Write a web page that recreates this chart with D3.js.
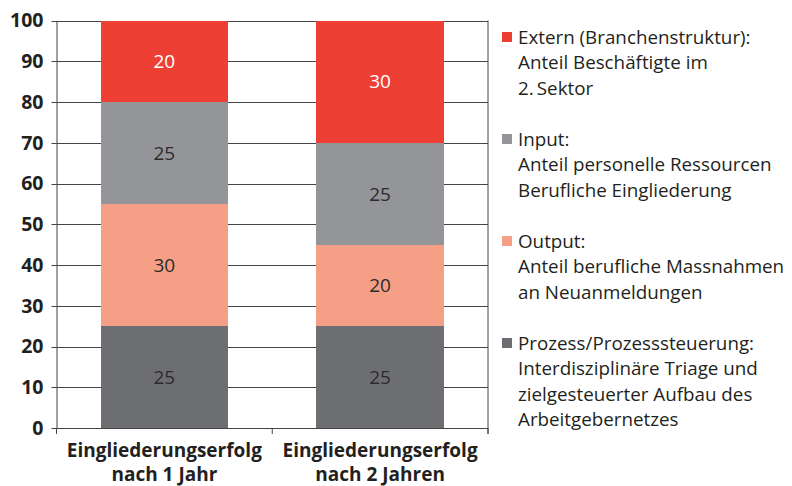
<!DOCTYPE html>
<html>
<head>
<meta charset="utf-8">
<script src="https://cdn.jsdelivr.net/npm/d3@7"></script>
<style>
  body { margin: 0; background: #fff; }
  svg { display: block; font-family: 'Open Sans', sans-serif; }
</style>
</head>
<body>
<div id="chart"></div>
<script>
const categories = [['Eingliederungserfolg', 'nach 1 Jahr'], ['Eingliederungserfolg', 'nach 2 Jahren']]
const seriesKeys = ['prozess', 'output', 'input', 'extern']
const prozess = [25, 25]
const output = [30, 20]
const input = [25, 25]
const extern = [20, 30]
const yTicks = [0, 10, 20, 30, 40, 50, 60, 70, 80, 90, 100]
const legendLabels = [
  ['Extern (Branchenstruktur):', 'Anteil Beschäftigte im', '2.\u2009Sektor'],
  ['Input:', 'Anteil personelle Ressourcen', 'Berufliche Eingliederung'],
  ['Output:', 'Anteil berufliche Massnahmen', 'an Neuanmeldungen'],
  ['Prozess/Prozesssteuerung:', 'Interdisziplinäre Triage und', 'zielgesteuerter Aufbau des', 'Arbeitgebernetzes']
]
const legendKeys = ['extern', 'input', 'output', 'prozess']

const color = d3.scaleOrdinal()
  .domain(seriesKeys)
  .range(['#6d6e71', '#f69f87', '#939598', '#ee3f35'])
const labelColor = { prozess: '#2b2b2b', output: '#2b2b2b', input: '#2b2b2b', extern: '#ffffff' }

const width = 792
const height = 486
const margin = { top: 20.5, left: 56.5, right: 304, bottom: 58 }

const rows = categories.map((c, i) => ({
  key: i, prozess: prozess[i], output: output[i], input: input[i], extern: extern[i]
}))
const stack = d3.stack().keys(seriesKeys)(rows)

const svg = d3.select('#chart').append('svg')
  .attr('width', width)
  .attr('height', height)

const x = d3.scaleBand()
  .domain(categories.map((c, i) => i))
  .range([margin.left, width - margin.right])
  .padding(0)
const y = d3.scaleLinear()
  .domain([0, 100])
  .range([height - margin.bottom, margin.top])

const barW = x.bandwidth() * 0.59

// grid lines
svg.append('g')
  .selectAll('line')
  .data(yTicks)
  .enter().append('line')
  .attr('x1', margin.left - 5)
  .attr('x2', width - margin.right)
  .attr('y1', d => Math.round(y(d)) + 0.5)
  .attr('y2', d => Math.round(y(d)) + 0.5)
  .attr('stroke', '#444')
  .attr('stroke-width', 1)

// bars
const layers = svg.append('g')
  .selectAll('g')
  .data(stack)
  .enter().append('g')
  .attr('fill', d => color(d.key))

layers.selectAll('rect')
  .data(d => d.map(v => ({ key: d.key, v })))
  .enter().append('rect')
  .attr('x', (d, i) => x(i) + (x.bandwidth() - barW) / 2)
  .attr('width', barW)
  .attr('y', d => Math.round(y(d.v[1])))
  .attr('height', d => Math.round(y(d.v[0])) - Math.round(y(d.v[1])))
  .attr('shape-rendering', 'crispEdges')

layers.selectAll('text')
  .data(d => d.map(v => ({ key: d.key, v })))
  .enter().append('text')
  .attr('x', (d, i) => x(i) + x.bandwidth() / 2)
  .attr('y', d => (y(d.v[0]) + y(d.v[1])) / 2)
  .attr('dy', '0.36em')
  .attr('text-anchor', 'middle')
  .attr('font-size', 19)
  .attr('fill', d => labelColor[d.key])
  .text(d => d.v[1] - d.v[0])

// y axis
const yAxis = svg.append('g')
  .attr('transform', `translate(${margin.left},0)`)
  .call(d3.axisLeft(y).tickValues(yTicks).tickSize(0).tickPadding(13))
yAxis.select('.domain').attr('stroke', '#444')
yAxis.selectAll('text')
  .attr('font-family', "'Open Sans', sans-serif")
  .attr('font-size', 19.5)
  .attr('font-weight', 'bold')
  .attr('fill', '#231f20')

// right border
svg.append('line')
  .attr('x1', width - margin.right).attr('x2', width - margin.right)
  .attr('y1', margin.top).attr('y2', y(0) + 6)
  .attr('stroke', '#444')

// x axis ticks
const xEdges = [x.range()[0], x(1), x.range()[1]]
svg.append('g')
  .selectAll('line')
  .data(xEdges)
  .enter().append('line')
  .attr('x1', d => d).attr('x2', d => d)
  .attr('y1', y(0)).attr('y2', y(0) + 6)
  .attr('stroke', '#444')

// x labels
const xl = svg.append('g')
  .selectAll('text')
  .data(categories)
  .enter().append('text')
  .attr('text-anchor', 'middle')
  .attr('font-size', 19)
  .attr('font-weight', 'bold')
  .attr('fill', '#231f20')
xl.selectAll('tspan')
  .data((d, i) => d.map(t => ({ t, i })))
  .enter().append('tspan')
  .attr('x', d => x(d.i) + x.bandwidth() / 2)
  .attr('y', (d, j) => 457 + j * 23.5)
  .text(d => d.t)

// legend
const lineH = 25.5
let line = 0
const legend = svg.append('g')
legendKeys.forEach((k, gi) => {
  const cy = 37 + line * lineH
  legend.append('rect')
    .attr('x', 502)
    .attr('y', cy - 5)
    .attr('width', 10)
    .attr('height', 10)
    .attr('fill', color(k))
  legend.append('text')
    .attr('font-size', 18.8)
    .attr('fill', '#231f20')
    .selectAll('tspan')
    .data(legendLabels[gi])
    .enter().append('tspan')
    .attr('x', 518)
    .attr('y', (d, j) => cy + j * lineH)
    .attr('dy', '0.36em')
    .text(d => d)
  line += legendLabels[gi].length + 1
})
</script>
</body>
</html>
